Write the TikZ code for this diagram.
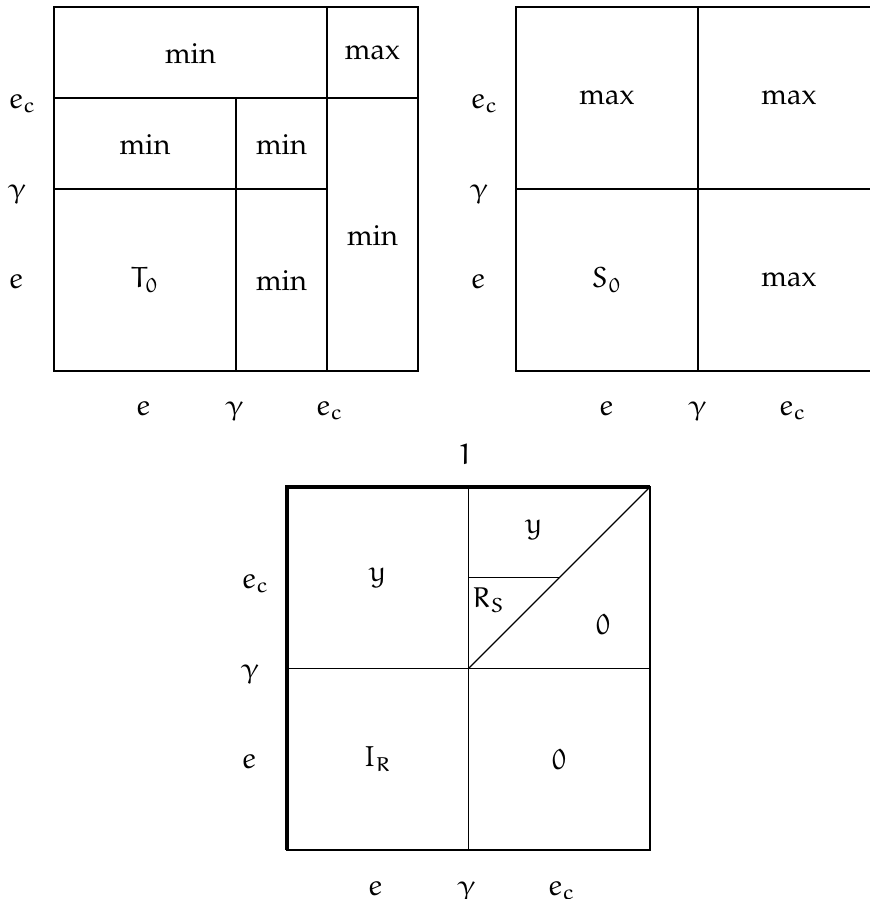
\documentclass[tikz,border=0pt]{standalone}
\usepackage[T1]{fontenc}
\IfFileExists{tgpagella.sty}{\usepackage{tgpagella}}{\usepackage{palatino}}
\DeclareSymbolFont{eul}{U}{eur}{m}{n}
\DeclareSymbolFontAlphabet{\mathe}{eul}
\DeclareMathSymbol{\egamma}{\mathord}{eul}{"0D}
\newcommand{\eu}[1]{\ensuremath{\mathe{#1}}}
\begin{document}
\begin{tikzpicture}[x=0.344828pt,y=-0.344828pt,
  grid/.style={line width=0.4pt},
  border/.style={line width=1.6pt},
  cell/.style={inner sep=0pt,anchor=center},
  axlab/.style={inner sep=0pt,anchor=base},
  leftlab/.style={inner sep=0pt,anchor=base west}]
\useasboundingbox (0,0) rectangle (870,899);
\clip (0,0) rectangle (870,899);
% ---------------- Panel A ----------------
\begin{scope}[shift={(54,7)}]
  \coordinate (a00) at (0,0);   \coordinate (a11) at (364,364);
  \draw[grid] (a00) rectangle (a11);
  \draw[grid] (0,91) -- (364,91);
  \draw[grid] (0,182) -- (273,182);
  \draw[grid] (182,91) -- (182,364);
  \draw[grid] (273,0) -- (273,364);
  \node[leftlab] (ay1) at (-46,101) {\eu{e_c}};
  \node[leftlab] (ay2) at (-46,191) {$\egamma$};
  \node[leftlab] (ay3) at (-46,281) {\eu{e}};
  \node[axlab] (ax1) at (89,408) {\eu{e}};
  \node[axlab] (ax2) at (181,408) {$\egamma$};
  \node[axlab] (ax3) at (276,408) {\eu{e_c}};
  \node[cell] (ac1) at (136.5,46) {min};
  \node[cell] (ac2) at (318.5,46) {max};
  \node[cell] (ac3) at (91,137) {min};
  \node[cell] (ac4) at (227.5,137) {min};
  \node[cell] (ac5) at (318.5,228) {min};
  \node[cell] (ac6) at (91,273) {\eu{T_0}};
  \node[cell] (ac7) at (227.5,273) {min};
\end{scope}
% ---------------- Panel B ----------------
\begin{scope}[shift={(516,7)}]
  \coordinate (b00) at (0,0);   \coordinate (b11) at (364,364);
  \draw[grid] (b00) rectangle (b11);
  \draw[grid] (0,182) -- (364,182);
  \draw[grid] (182,0) -- (182,364);
  \node[leftlab] (by1) at (-46,101) {\eu{e_c}};
  \node[leftlab] (by2) at (-46,191) {$\egamma$};
  \node[leftlab] (by3) at (-46,281) {\eu{e}};
  \node[axlab] (bx1) at (90,408) {\eu{e}};
  \node[axlab] (bx2) at (182,408) {$\egamma$};
  \node[axlab] (bx3) at (277,408) {\eu{e_c}};
  \node[cell] (bc1) at (91,91) {max};
  \node[cell] (bc2) at (273,91) {max};
  \node[cell] (bc3) at (91,273) {\eu{S_0}};
  \node[cell] (bc4) at (273,273) {max};
\end{scope}
% ---------------- Panel C ----------------
\begin{scope}[shift={(287,487)}]
  \coordinate (c00) at (0,0);     \coordinate (c10) at (363,0);
  \coordinate (c01) at (0,363);   \coordinate (c11) at (363,363);
  \coordinate (cmm) at (181.5,181.5);
  \draw[grid] (c00) rectangle (c11);
  \draw[grid] (0,181.5) -- (363,181.5);
  \draw[grid] (181.5,0) -- (181.5,363);
  \draw[grid] (cmm) -- (c10);
  \draw[grid] (181.5,90.75) -- (272.25,90.75);
  \draw[border] (c01) -- (c00) -- (c10);
  \node[axlab] (cone) at (178,-23) {\eu{1}};
  \node[leftlab] (cy1) at (-46,101) {\eu{e_c}};
  \node[leftlab] (cy2) at (-46,191) {$\egamma$};
  \node[leftlab] (cy3) at (-46,281) {\eu{e}};
  \node[axlab] (cx1) at (88,408) {\eu{e}};
  \node[axlab] (cx2) at (180,408) {$\egamma$};
  \node[axlab] (cx3) at (275,408) {\eu{e_c}};
  \node[cell] (cc1) at (90.75,90.75) {\eu{y}};
  \node[cell] (cc2) at (90.75,272) {\eu{I_R}};
  \node[cell] (cc3) at (272,272) {\eu{0}};
  \node[cell] (cc4) at (247,43) {\eu{y}};
  \node[cell] (cc5) at (202,113) {\eu{R_S}};
  \node[cell] (cc6) at (316,137) {\eu{0}};
\end{scope}
\end{tikzpicture}
\end{document}
